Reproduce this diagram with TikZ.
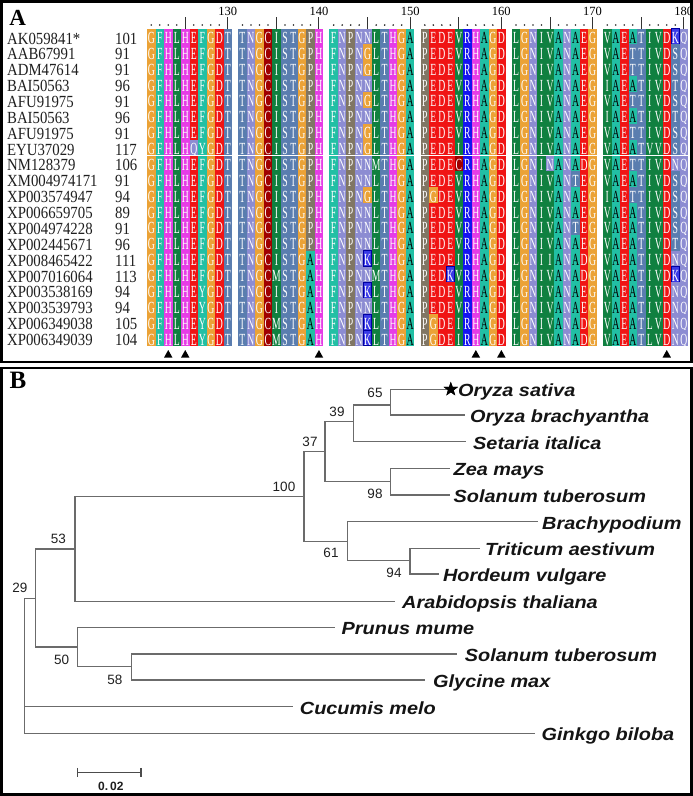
\documentclass[tikz,border=0pt]{standalone}
\usepackage{fontspec}
\setmainfont{Liberation Serif}
\newfontfamily\cellff[FakeStretch=0.57]{Liberation Serif}
\newfontfamily\nameff[FakeStretch=0.87]{Liberation Serif}
\newfontfamily\treeff[FakeStretch=1.13]{Liberation Sans}
\newfontfamily\sansff{Liberation Sans}
\usetikzlibrary{shapes.geometric}
% residue colours
\definecolor{cOra}{HTML}{EBA236}
\definecolor{cTea}{HTML}{22BFA4}
\definecolor{cMag}{HTML}{E63CE6}
\definecolor{cGre}{HTML}{108040}
\definecolor{cRed}{HTML}{F01414}
\definecolor{cSte}{HTML}{5A7DAF}
\definecolor{cLav}{HTML}{8C8CD2}
\definecolor{cDre}{HTML}{A00000}
\definecolor{cGra}{HTML}{807664}
\definecolor{cBlu}{HTML}{1414F0}
\definecolor{cKbl}{HTML}{3A3AE6}
\definecolor{cKbd}{HTML}{0000A0}
\colorlet{tA}{black}
\colorlet{tC}{white}\colorlet{tD}{white}\colorlet{tE}{white}\colorlet{tF}{white}
\colorlet{tG}{white}\colorlet{tH}{white}\colorlet{tI}{white}\colorlet{tK}{white}
\colorlet{tL}{white}\colorlet{tM}{white}\colorlet{tN}{white}\colorlet{tP}{white}
\colorlet{tQ}{white}\colorlet{tR}{white}\colorlet{tS}{white}\colorlet{tT}{white}
\colorlet{tV}{white}\colorlet{tY}{white}
\tikzset{
  rG/.style={fill=cOra},
  rF/.style={fill=cTea}, rY/.style={fill=cTea}, rA/.style={fill=cTea},
  rH/.style={fill=cMag},
  rL/.style={fill=cGre}, rI/.style={fill=cGre}, rV/.style={fill=cGre}, rM/.style={fill=cGre},
  rE/.style={fill=cRed}, rD/.style={fill=cRed},
  rT/.style={fill=cSte}, rS/.style={fill=cSte},
  rN/.style={fill=cLav}, rQ/.style={fill=cLav},
  rC/.style={fill=cDre},
  rP/.style={fill=cGra},
  rR/.style={fill=cBlu},
  rK/.style={fill=cKbl, draw=cKbd, line width=1pt},
}
\newcount\seqcol
\def\seqrow#1#2{\seqcol=0 \def\seqr{#1}\pgfmathsetmacro\rowtop{28.5+15.87*#1}\doseq#2\relax}
\def\doseq#1{\ifx#1\relax\else\seqcell{#1}\advance\seqcol by 1 \expandafter\doseq\fi}
\def\seqcell#1{%
  \pgfmathsetmacro\cx{147+91.2*floor(\the\seqcol/10)+8.5*mod(\the\seqcol,10)}%
  \path[r#1] (\cx,\rowtop) rectangle ++(8.5,15.87);
  \node[cell,text=t#1] (s\seqr-\the\seqcol) at (\cx+4.25,\rowtop+15) {#1};}
\begin{document}
\begin{tikzpicture}[x=1pt,y=-1pt,
  cell/.style={font={\cellff\fontsize{17}{17}\selectfont}, inner sep=0pt, anchor=base},
  seqname/.style={font={\nameff\fontsize{17}{17}\selectfont}, inner sep=0pt, anchor=base west, text=black!88},
  rulenum/.style={font={\fontsize{12.5}{12.5}\selectfont}, inner sep=0pt, anchor=base},
  tickline/.style={line width=1pt, black!80},
  branch/.style={line width=1.05pt, black!58},
  leaf/.style={font={\treeff\bfseries\itshape\fontsize{17.6}{18}\selectfont}, text height=15pt, text depth=0pt, inner ysep=0pt, anchor=west, text=black!92},
  supp/.style={font={\sansff\fontsize{13.5}{13.5}\selectfont}, inner sep=0pt, text=black!88},
  panelframe/.style={line width=2.7pt, black},
  panellabel/.style={font=\bfseries, inner sep=0pt},
]
\useasboundingbox (0,0) rectangle (693,796);
\fill[white] (0,0) rectangle (693,796);

% ---------------- Panel A ----------------
\node[panellabel, font={\bfseries\fontsize{23}{23}\selectfont}] (labA) at (17.8,17.5) {A};

% ruler
\foreach \b in {0,...,5} {
  \pgfmathsetmacro\bx{147+91.2*\b}
  \pgfmathtruncatemacro\lab{130+10*\b}
  \foreach \c in {0,1,2,3,5,6,7,8} \fill[black!85] (\bx+8.5*\c+4.25,25) circle (0.9);
  \draw[tickline] (\bx+8.5*4+4.25,17) -- (\bx+8.5*4+4.25,29);
  \draw[tickline] (\bx+8.5*9+4.25,17) -- (\bx+8.5*9+4.25,29);
  \node[rulenum] (rn\b) at (\bx+8.5*9+4.25,15) {\lab};
}

% names and start numbers
\foreach \n/\num [count=\i from 0] in {AK059841*/101, AAB67991/91, ADM47614/91, BAI50563/96, AFU91975/91, BAI50563/96, AFU91975/91, EYU37029/117, NM128379/106, XM004974171/91, XP003574947/94, XP006659705/89, XP004974228/91, XP002445671/96, XP008465422/111, XP007016064/113, XP003538169/94, XP003539793/94, XP006349038/105, XP006349039/104} {
  \node[seqname] (nm\i) at (7,28.5+15.87*\i+15.5) {\n};
  \node[seqname] (no\i) at (115,28.5+15.87*\i+15.5) {\num};
}

% alignment
\seqrow{0}{GFHLHEFGDT TNGCISTGPH FNPNNLTHGA PEDEVRHAGD LGNIVANAEG VAEATIVDKQ}
\seqrow{1}{GFHLHEFGDT TNGCISTGPH FNPNGLTHGA PEDEVRHAGD LGNIVANAEG VAETTIVDSQ}
\seqrow{2}{GFHLHEFGDT TNGCISTGPH FNPNGLTHGA PEDEVRHAGD LGNIVANAEG VAETTIVDSQ}
\seqrow{3}{GFHLHEFGDT TNGCISTGPH FNPNNLTHGA PEDEVRHAGD LGNIVANAEG IAEATIVDTQ}
\seqrow{4}{GFHLHEFGDT TNGCISTGPH FNPNGLTHGA PEDEVRHAGD LGNIVANAEG VAETTIVDSQ}
\seqrow{5}{GFHLHEFGDT TNGCISTGPH FNPNNLTHGA PEDEVRHAGD LGNIVANAEG IAEATIVDTQ}
\seqrow{6}{GFHLHEFGDT TNGCISTGPH FNPNGLTHGA PEDEVRHAGD LGNIVANAEG VAETTIVDSQ}
\seqrow{7}{GFHLHQYGDT TNGCISTGPH FNPNGLTHGA PEDEIRHAGD LGNIVANAEG VAEATVVDSQ}
\seqrow{8}{GFHLHEFGDT TNGCISTGPH FNPNNMTHGA PEDECRHAGD LGNINANADG VAETTIVDNQ}
\seqrow{9}{GFHLHEFGDT TNGCISTGPH FNPNNLTHGA PEDEVRHAGD LGNIVANTEG VAEATIVDSQ}
\seqrow{10}{GFHLHEFGDT TNGCISTGPH FNPNGLTHGA PGDEVRHAGD LGNIVANAEG IAETTIVDSQ}
\seqrow{11}{GFHLHEFGDT TNGCISTGPH FNPNNLTHGA PEDEVRHAGD LGNIVANAEG VAEATIVDSQ}
\seqrow{12}{GFHLHEFGDT TNGCISTGPH FNPNNLTHGA PEDEVRHAGD LGNIVANTEG VAEATIVDSQ}
\seqrow{13}{GFHLHEFGDT TNGCISTGPH FNPNNLTHGA PEDEVRHAGD LGNIVANAEG VAEATIVDTQ}
\seqrow{14}{GFHLHEFGDT TNGCISTGAH FNPNKLTHGA PEDEIRHAGD LGNIIANADG VAEATIVDNQ}
\seqrow{15}{GFHLHEFGDT TNGCMSTGAH FNPNNMTHGA PEDKVRHAGD LGNIVANADG VAEATIVDKQ}
\seqrow{16}{GFHLHEYGDT TNGCISTGAH FNPNKLTHGA PEDEVRHAGD LGNIVANAEG VAEATIVDNQ}
\seqrow{17}{GFHLHEYGDT TNGCISTGAH FNPNNLTHGA PEDEVRHAGD LGNIVANAEG VAEATIVDNQ}
\seqrow{18}{GFHLHEYGDT TNGCMSTGAH FNPNKLTHGA PGDEIRHAGD LGNIVANADG VAEATLVDNQ}
\seqrow{19}{GFHLHEYGDT TNGCMSTGAH FNPNKLTHGA PGDEIRHAGD LGNIVANADG VAEATLVDNQ}
\draw[white, line width=0.8pt] (147,155.4) -- (690,155.4);

% conserved-site triangles
\foreach \c in {2,4,19,36,39,57} {
  \pgfmathsetmacro\tx{147+91.2*floor(\c/10)+8.5*mod(\c,10)+4.25}
  \fill[black] (\tx,350) -- (\tx+4.2,357.5) -- (\tx-4.2,357.5) -- cycle;
}

% ---------------- Panel B ----------------
\node[panellabel, font={\bfseries\fontsize{25}{25}\selectfont}] (labB) at (18,380.5) {B};

% internal nodes
\coordinate (root) at (24.3,598.3);
\coordinate (a) at (35.7,598.3);
\coordinate (b) at (75,549);
\coordinate (c) at (304,496.7);
\coordinate (d) at (325,451.7);
\coordinate (e) at (353.3,421.7);
\coordinate (f) at (390.7,405);
\coordinate (g) at (390.7,481.7);
\coordinate (h) at (347.3,541.7);
\coordinate (i) at (410,560.7);
\coordinate (j) at (77.7,647);
\coordinate (k) at (131.7,666.7);

% leaves
\node[star, star points=5, star point ratio=2.5, fill=black, minimum size=15pt, inner sep=0pt] (star) at (450.8,389.3) {};
\node[leaf, inner xsep=0pt] (osat) at (458,389) {Oryza sativa};
\node[leaf, inner xsep=5pt] (obra) at (465,415) {Oryza brachyantha};
\node[leaf, inner xsep=7pt] (seta) at (466,441.7) {Setaria italica};
\node[leaf, inner xsep=3.5pt] (zea) at (450,468.3) {Zea mays};
\node[leaf, inner xsep=3.5pt] (sol1) at (450,495) {Solanum tuberosum};
\node[leaf, inner xsep=4pt] (brac) at (538,521.7) {Brachypodium};
\node[leaf, inner xsep=5pt] (trit) at (480,548.3) {Triticum aestivum};
\node[leaf, inner xsep=3.5pt] (hord) at (439.3,574) {Hordeum vulgare};
\node[leaf, inner xsep=7pt] (arab) at (395,601.2) {Arabidopsis thaliana};
\node[leaf, inner xsep=6.5pt] (prun) at (335,627.3) {Prunus mume};
\node[leaf, inner xsep=8pt] (sol2) at (456.7,654) {Solanum tuberosum};
\node[leaf, inner xsep=8pt] (glyc) at (425,680) {Glycine max};
\node[leaf, inner xsep=7pt] (cucu) at (292.7,706.7) {Cucumis melo};
\node[leaf, inner xsep=6.5pt] (gink) at (535,733.3) {Ginkgo biloba};

% branches
\draw[branch] (root) |- (a);
\draw[branch] (root) |- (cucu.west);
\draw[branch] (root) |- (gink.west);
\draw[branch] (a) |- (b);
\draw[branch] (a) |- (j);
\draw[branch] (b) |- (c);
\draw[branch] (b) |- (arab.west);
\draw[branch] (c) |- (d);
\draw[branch] (c) |- (h);
\draw[branch] (d) |- (e);
\draw[branch] (d) |- (g);
\draw[branch] (e) |- (f);
\draw[branch] (e) |- (seta.west);
\draw[branch] (f) |- (star.center);
\draw[branch] (f) |- (obra.west);
\draw[branch] (g) |- (zea.west);
\draw[branch] (g) |- (sol1.west);
\draw[branch] (h) |- (brac.west);
\draw[branch] (h) |- (i);
\draw[branch] (i) |- (trit.west);
\draw[branch] (i) |- (hord.west);
\draw[branch] (j) |- (prun.west);
\draw[branch] (j) |- (k);
\draw[branch] (k) |- (sol2.west);
\draw[branch] (k) |- (glyc.west);
\node[star, star points=5, star point ratio=2.5, fill=black, minimum size=15pt, inner sep=0pt] (star2) at (star.center) {};

% bootstrap values
\node[supp] (s29) at (20,588) {29};
\node[supp] (s53) at (58.3,539.3) {53};
\node[supp] (s100) at (284,486.7) {100};
\node[supp] (s37) at (310,442) {37};
\node[supp] (s39) at (337,412) {39};
\node[supp] (s61) at (331,553) {61};
\node[supp] (s65) at (375,393) {65};
\node[supp] (s98) at (375,494) {98};
\node[supp] (s94) at (394,573) {94};
\node[supp] (s50) at (61.7,659.5) {50};
\node[supp] (s58) at (115,679.7) {58};

% scale bar
\coordinate (sbl) at (77.7,772.3);
\coordinate (sbr) at (141,772.3);
\draw[line width=1.3pt, black!70] (sbl) -- (sbr);
\draw[line width=1.3pt, black!70] (77.7,767.8) -- (77.7,776.8);
\draw[line width=1.3pt, black!70] (141,767.8) -- (141,776.8);
\node[supp, font={\sansff\bfseries\fontsize{12}{12}\selectfont}] (sblab) at (110.8,786) {0.\,02};

% frames
\draw[panelframe] (1.35,1.35) rectangle (691.6,362);
\draw[panelframe] (1.35,368) rectangle (691.6,794.6);
\end{tikzpicture}
\end{document}
